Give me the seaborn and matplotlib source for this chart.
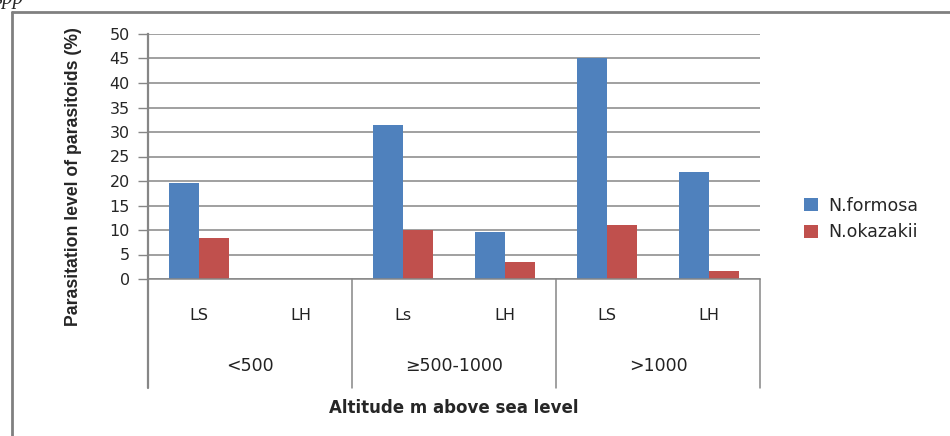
import seaborn as sns
import matplotlib.pyplot as plt
import pandas as pd
from matplotlib.lines import Line2D

# values
groups = ['<500', '≥500-1000', '>1000']
sites = ['LS', 'LH', 'Ls', 'LH', 'LS', 'LH']
formosa = [19.6, 0, 31.4, 9.6, 45.0, 21.8]
okazakii = [8.4, 0, 10.1, 3.5, 11.0, 1.7]
series = ['N.formosa', 'N.okazakii']
colors = ['#4F81BD', '#C0504D']

keys = [f'c{i}' for i in range(len(sites))]
df = pd.DataFrame({
    'cat': keys * 2,
    'value': formosa + okazakii,
    'species': [series[0]] * len(keys) + [series[1]] * len(keys),
})

grey = '#868686'
sns.set_style('white')
plt.rcParams['font.family'] = ['DejaVu Sans']

fig = plt.figure(figsize=(9.5, 4.36), dpi=100)
ax = fig.add_axes([148 / 950, 1 - 279 / 436, (760 - 148) / 950, 245 / 436])

sns.barplot(data=df, x='cat', y='value', hue='species', order=keys,
            palette=colors, width=0.59, gap=0, saturation=1, ax=ax,
            legend=True, linewidth=0)

ax.set_xlim(-0.5, len(keys) - 0.5)
ax.set_ylim(0, 50)
ax.set_yticks(range(0, 51, 5))
ax.tick_params(axis='y', labelsize=11.5, length=7, width=1, color=grey,
               direction='out', pad=6, left=True)
ax.yaxis.grid(True, color=grey, lw=1.1)
ax.set_axisbelow(True)
ax.tick_params(axis='x', bottom=False, labelbottom=False)
for s in ['top', 'right']:
    ax.spines[s].set_visible(False)
ax.spines['left'].set_color(grey)
ax.spines['left'].set_linewidth(1.6)
ax.spines['bottom'].set_color(grey)
ax.spines['bottom'].set_linewidth(1.1)
ax.set_xlabel('')
ax.set_ylabel('Parasitation level of parasitoids (%)', fontsize=12.7,
              fontweight='bold', family=['Liberation Sans', 'DejaVu Sans'])
ax.yaxis.set_label_coords(-66 / 612, 102 / 245)

# multi-level category axis below the plot
tr = ax.get_xaxis_transform()
low = -109 / 245
ax.plot([-0.5, -0.5], [0, low], transform=tr, color=grey, lw=1.6, clip_on=False)
for b in [1.5, 3.5, 5.5]:
    ax.plot([b, b], [0, low], transform=tr, color=grey, lw=1.1, clip_on=False)
for i, s in enumerate(sites):
    ax.text(i, -37 / 245, s, transform=tr, ha='center', va='center',
            fontsize=11.5, color='#222222')
for j, g in enumerate(groups):
    ax.text(2 * j + 0.5, -87 / 245, g, transform=tr, ha='center', va='center',
            fontsize=12.5, color='#222222')
ax.text(2.5, -129 / 245, 'Altitude m above sea level', transform=tr,
        ha='center', va='center', fontsize=12, fontweight='bold')

handles, labels = ax.get_legend_handles_labels()
ax.legend(handles, labels, loc='center left', bbox_to_anchor=(788 / 950, 1 - 219 / 436),
          bbox_transform=fig.transFigure, frameon=False, fontsize=12.5,
          handlelength=0.8, handleheight=0.8, handletextpad=0.6, labelspacing=0.5)

# outer frame and clipped caption fragment
fig.add_artist(Line2D([11.5 / 950, 11.5 / 950], [0, 1 - 12 / 436], color='#808080', lw=2))
fig.add_artist(Line2D([11.5 / 950, 1], [1 - 12 / 436, 1 - 12 / 436], color='#808080', lw=2))
fig.text(-0.006, 1 - 4 / 436, 'spp', fontsize=15, style='italic',
         family=['Liberation Serif', 'DejaVu Serif'], va='baseline', ha='left')

fig.savefig('out.png', dpi=100)
